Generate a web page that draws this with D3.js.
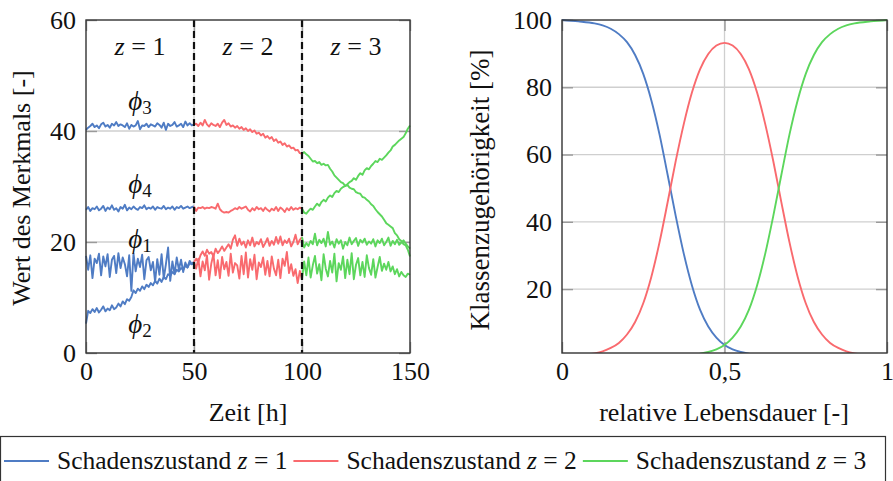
<!DOCTYPE html>
<html>
<head>
<meta charset="utf-8">
<script src="https://cdn.jsdelivr.net/npm/d3@7"></script>
<style>
  body { margin: 0; background: #fff; }
  text { font-family: "Liberation Serif", "Times New Roman", serif; fill: #111; }
</style>
</head>
<body>
<div id="chart"></div>
<script>
// ---- data ----
// features over time, one value per hour (0..150 h)
var phi3 = [40.2,40.6,40.9,41.3,40.7,41.0,40.5,41.2,41.5,40.8,41.1,40.6,41.3,41.0,41.6,40.9,41.2,41.0,40.7,41.4,
  40.4,41.1,40.8,41.0,41.8,40.3,41.0,40.9,41.3,40.7,41.2,41.0,40.8,41.4,41.1,40.6,41.5,40.2,41.3,40.9,
  41.1,41.6,40.8,41.0,41.3,40.7,41.7,41.0,41.4,41.0,41.2,
  41.3,40.9,41.5,41.0,42.0,41.2,40.8,41.4,41.1,40.9,41.3,40.7,41.5,42.0,41.1,41.4,40.8,41.0,40.6,40.9,
  40.4,40.7,40.2,40.5,40.0,40.3,39.8,40.1,39.5,39.7,39.2,39.5,38.8,39.1,38.6,38.9,38.2,38.5,37.9,38.1,
  37.5,37.8,37.2,37.4,36.9,37.0,36.5,36.6,36.0,35.9,
  36.2,35.8,35.5,35.0,34.5,34.6,34.2,34.4,33.9,34.1,33.8,33.9,33.2,32.7,32.0,31.6,31.2,30.8,30.6,30.1,
  30.3,29.8,29.6,29.5,29.0,28.8,28.7,28.1,28.0,27.6,27.3,26.8,26.5,25.9,25.4,25.0,24.6,24.0,23.4,23.1,
  22.8,22.5,21.6,21.2,20.5,20.2,19.6,19.4,18.6,17.4];
var phi4 = [25.8,26.3,25.6,26.1,25.9,26.4,25.7,26.0,26.5,25.6,26.2,25.9,26.6,25.8,26.1,25.5,26.3,26.0,26.7,25.7,
  26.2,25.9,26.4,26.0,25.8,26.3,26.1,26.6,25.9,26.2,26.0,26.4,25.8,26.3,26.1,26.0,26.5,25.9,26.2,26.0,
  26.4,25.8,26.3,26.1,26.5,26.0,26.2,26.4,26.1,26.3,26.4,
  25.6,26.2,26.1,26.3,26.0,26.2,26.1,26.3,26.2,26.0,26.9,25.9,25.5,25.3,25.4,25.3,25.6,25.8,26.1,25.9,
  26.3,26.0,26.2,26.4,25.8,25.5,26.1,25.7,26.3,25.9,26.1,25.6,26.2,25.8,25.5,26.0,25.7,26.3,25.6,26.2,
  25.9,25.4,26.1,25.7,26.3,25.8,26.1,25.9,26.2,26.0,
  25.3,25.1,25.6,26.0,25.8,26.4,26.9,26.5,27.2,27.6,27.3,28.0,28.4,28.1,28.8,29.2,29.0,29.6,29.9,30.1,
  30.4,30.8,31.0,31.5,31.2,31.9,32.4,32.1,32.9,33.3,33.1,33.7,34.1,34.6,34.4,35.0,34.8,35.2,35.6,36.1,
  36.5,37.2,37.5,37.9,38.3,38.6,38.9,39.6,40.4,41.0];
var phi1 = [17.5,15.0,17.6,13.5,17.0,16.2,17.9,14.0,17.4,15.6,17.8,13.7,16.8,17.5,14.4,18.0,15.3,17.2,16.0,13.8,
  17.6,11.2,17.9,14.7,17.0,15.5,17.7,13.3,16.7,17.3,14.9,16.4,12.8,16.9,14.1,17.8,13.4,16.0,19.0,13.0,
  16.5,14.2,17.2,15.0,16.8,14.6,16.3,15.4,16.6,16.0,16.4,
  15.2,17.0,13.8,16.5,14.9,17.6,13.2,16.1,17.8,14.0,16.7,13.5,17.3,15.1,16.4,13.9,17.9,14.5,16.2,15.8,
  13.4,17.5,14.2,18.1,13.6,16.9,15.0,17.7,13.3,16.3,15.5,17.2,14.1,16.6,13.8,17.4,15.2,14.0,16.8,13.5,
  17.0,15.7,18.2,14.4,16.0,13.9,15.1,12.6,14.8,13.2,
  16.5,14.0,17.2,13.6,15.8,17.5,14.3,16.0,13.1,17.8,15.2,13.8,16.6,14.5,17.9,12.9,16.2,15.0,17.4,13.5,
  16.8,14.2,18.0,13.3,15.9,17.1,14.0,16.4,13.7,17.6,15.3,14.1,16.9,13.6,15.5,17.3,14.8,16.1,15.0,16.4,
  14.7,15.6,14.2,15.1,13.8,14.6,14.0,13.7,14.3,14.1];
var phi2 = [5.3,7.6,7.2,7.9,7.4,8.1,7.3,7.8,8.4,7.5,8.0,7.7,8.6,7.9,8.2,8.9,8.4,9.3,8.8,9.7,
  9.4,10.1,11.3,10.8,11.6,11.2,12.0,11.5,12.3,11.9,12.6,12.2,13.0,12.5,13.4,12.8,13.7,13.3,14.2,13.9,
  14.6,14.2,15.0,14.7,15.3,15.0,15.7,15.4,16.2,16.0,16.4,
  17.0,16.4,17.6,18.3,17.5,18.6,17.9,18.2,17.4,18.8,18.0,18.5,19.2,18.4,19.0,19.6,18.8,20.4,21.2,19.3,
  20.6,19.5,20.1,19.0,20.3,19.4,20.8,19.2,20.0,19.6,20.5,19.1,19.8,20.7,19.3,20.2,19.5,20.9,19.7,21.0,
  19.4,20.3,19.8,20.6,19.2,20.0,21.3,19.6,20.4,20.9,
  19.0,19.8,19.3,20.2,19.6,21.5,19.4,20.4,19.8,20.6,19.2,21.8,19.5,20.1,19.0,20.5,19.7,20.3,18.8,20.0,
  19.4,20.8,19.6,20.2,20.7,19.3,20.4,19.9,20.6,19.5,20.1,19.7,20.5,19.2,20.3,19.8,20.6,19.4,20.0,20.8,
  19.3,20.2,19.6,20.4,19.5,19.9,20.3,19.7,19.2,18.8];
var zustandGrenzen = [0, 50, 100, 150];

// membership over relative lifetime
var lebensdauer = [0,0.05,0.1,0.125,0.15,0.175,0.2,0.225,0.25,0.275,0.3,0.325,0.35,0.375,0.4,0.425,0.45,0.475,0.5,
  0.525,0.55,0.575,0.6,0.625,0.65,0.675,0.7,0.725,0.75,0.775,0.8,0.825,0.85,0.875,0.9,0.95,1];
var zug1 = [100,99.6,99.0,98.4,97.4,95.8,93.4,89.6,84.0,76.1,66.0,54.0,41.7,30.4,21.0,13.8,8.9,5.6,3.4,
  2.1,1.3,0.8,0.5,0.3,0.2,0.1,0.1,0,0,0,0,0,0,0,0,0,0];
var zug2 = [0,0.3,0.9,1.5,2.5,4.0,6.5,10.2,15.8,23.7,33.9,45.8,58.1,69.2,78.5,85.4,89.9,92.4,93.2,
  92.4,89.9,85.4,78.5,69.2,58.1,45.8,33.9,23.7,15.8,10.2,6.5,4.0,2.5,1.5,0.9,0.3,0];
var zug3 = [0,0,0,0,0,0,0,0,0,0,0.1,0.1,0.2,0.3,0.5,0.8,1.3,2.1,3.4,
  5.6,8.9,13.8,21.0,30.4,41.7,54.0,66.0,76.1,84.0,89.6,93.4,95.8,97.4,98.4,99.0,99.6,100];

var linksYTicks = [0, 20, 40, 60];
var linksXTicks = [0, 50, 100, 150];
var rechtsYTicks = [20, 40, 60, 80, 100];
var rechtsXTicks = [0, 0.5, 1];
var zustaende = ["1", "2", "3"];
var farben = ["#4f7cc4", "#f96a6e", "#5cd65c"];

// ---- layout ----
var W = 893, H = 481;
var svg = d3.select("#chart").append("svg")
  .attr("width", W).attr("height", H);
svg.append("rect").attr("width", W).attr("height", H).attr("fill", "#fff");

var top0 = 20, bot0 = 353;
var serif = '"Liberation Serif", "Times New Roman", serif';

function frame(g, x, y, xt, yt) {
  var x0 = x.range()[0], x1 = x.range()[1];
  // grid
  g.append("g").selectAll("line").data(yt.filter(function(d) { return d > y.domain()[0] && d < y.domain()[1]; }))
    .enter().append("line")
    .attr("x1", x0).attr("x2", x1)
    .attr("y1", function(d) { return y(d); }).attr("y2", function(d) { return y(d); })
    .attr("stroke", "#cfcfcf").attr("stroke-width", 1.3);
  g.append("g").selectAll("line").data(xt.filter(function(d) { return d > x.domain()[0] && d < x.domain()[1]; }))
    .enter().append("line")
    .attr("y1", top0).attr("y2", bot0)
    .attr("x1", function(d) { return x(d); }).attr("x2", function(d) { return x(d); })
    .attr("stroke", "#cfcfcf").attr("stroke-width", 1.3);
  // inner tick marks on all four sides
  var tk = [
    d3.axisLeft(y).tickValues(yt).tickSize(-11).tickFormat(""),
    d3.axisRight(y).tickValues(yt).tickSize(-11).tickFormat(""),
    d3.axisBottom(x).tickValues(xt).tickSize(-11).tickFormat(""),
    d3.axisTop(x).tickValues(xt).tickSize(-11).tickFormat("")
  ];
  var pos = ["translate(" + x0 + ",0)", "translate(" + x1 + ",0)",
             "translate(0," + bot0 + ")", "translate(0," + top0 + ")"];
  tk.forEach(function(a, i) {
    var t = g.append("g").attr("transform", pos[i]).call(a);
    t.select(".domain").remove();
    t.selectAll("line").attr("stroke", "#9a9a9a").attr("stroke-width", 1.4);
  });
}

function labels(g, x, y, xt, yt, fmtX) {
  var ax = g.append("g").attr("transform", "translate(" + x.range()[0] + ",0)")
    .call(d3.axisLeft(y).tickValues(yt).tickSize(0).tickPadding(10));
  var bx = g.append("g").attr("transform", "translate(0," + bot0 + ")")
    .call(d3.axisBottom(x).tickValues(xt).tickSize(0).tickPadding(9).tickFormat(fmtX));
  [ax, bx].forEach(function(a) {
    a.select(".domain").remove();
    a.attr("font-family", serif).attr("font-size", 26);
    a.selectAll("text").attr("fill", "#111");
  });
}

// ---- left chart: Merkmale über Zeit ----
var xL = d3.scaleLinear().domain([0, 150]).range([86, 410]);
var yL = d3.scaleLinear().domain([0, 60]).range([bot0, top0]);
var gL = svg.append("g");
frame(gL, xL, yL, linksXTicks, linksYTicks);

var lineL = d3.line()
  .x(function(d) { return xL(d[0]); })
  .y(function(d) { return yL(d[1]); });

[phi3, phi4, phi1, phi2].forEach(function(serie) {
  for (var k = 0; k < 3; k++) {
    var a = zustandGrenzen[k], b = zustandGrenzen[k + 1];
    var pts = [];
    for (var t = a; t <= b; t++) pts.push([t, serie[t]]);
    gL.append("path").datum(pts)
      .attr("d", lineL)
      .attr("fill", "none")
      .attr("stroke", farben[k])
      .attr("stroke-width", 1.9)
      .attr("stroke-linejoin", "round");
  }
});

// dashed borders between damage states
gL.selectAll(".grenze").data([50, 100]).enter().append("line")
  .attr("x1", function(d) { return xL(d); }).attr("x2", function(d) { return xL(d); })
  .attr("y1", top0).attr("y2", bot0)
  .attr("stroke", "#111").attr("stroke-width", 2.2).attr("stroke-dasharray", "7,4");

gL.append("rect").attr("x", 86).attr("y", top0).attr("width", 324).attr("height", bot0 - top0)
  .attr("fill", "none").attr("stroke", "#333").attr("stroke-width", 1.4);
labels(gL, xL, yL, linksXTicks, linksYTicks, d3.format("d"));

// z = 1,2,3 labels
zustaende.forEach(function(z, i) {
  var t = gL.append("text")
    .attr("x", xL(zustandGrenzen[i] + 25)).attr("y", 55)
    .attr("text-anchor", "middle").style("font-size", "26px");
  t.append("tspan").attr("font-style", "italic").text("z");
  t.append("tspan").text(" = " + z);
});

// phi labels
var phiPos = [["3", 110], ["4", 193], ["1", 248], ["2", 333]];
phiPos.forEach(function(p) {
  var t = gL.append("text").attr("x", xL(25)).attr("y", p[1])
    .attr("text-anchor", "middle").style("font-size", "27px");
  t.append("tspan").attr("font-style", "italic").text("\u03D5");
  t.append("tspan").attr("dy", 4).style("font-size", "19px").text(p[0]);
});

// axis titles
gL.append("text").attr("x", 248).attr("y", 421).attr("text-anchor", "middle")
  .style("font-size", "26px").text("Zeit [h]");
gL.append("text").attr("transform", "translate(30,188) rotate(-90)").attr("text-anchor", "middle")
  .style("font-size", "26px").text("Wert des Merkmals [-]");

// ---- right chart: Klassenzugehörigkeit ----
var xR = d3.scaleLinear().domain([0, 1]).range([562, 887]);
var yR = d3.scaleLinear().domain([1, 100]).range([bot0, top0]);
var gR = svg.append("g");
frame(gR, xR, yR, rechtsXTicks, rechtsYTicks);

svg.append("clipPath").attr("id", "clipR").append("rect")
  .attr("x", 562).attr("y", top0 - 2).attr("width", 325).attr("height", bot0 - top0 + 2);

var lineR = d3.line()
  .x(function(d, i) { return xR(lebensdauer[i]); })
  .y(function(d) { return yR(d); })
  .curve(d3.curveMonotoneX);

[zug1, zug2, zug3].forEach(function(serie, k) {
  gR.append("path").datum(serie)
    .attr("d", lineR)
    .attr("clip-path", "url(#clipR)")
    .attr("fill", "none")
    .attr("stroke", farben[k])
    .attr("stroke-width", 1.9);
});

gR.append("rect").attr("x", 562).attr("y", top0).attr("width", 325).attr("height", bot0 - top0)
  .attr("fill", "none").attr("stroke", "#333").attr("stroke-width", 1.4);
labels(gR, xR, yR, rechtsXTicks, rechtsYTicks, function(d) { return String(d).replace(".", ","); });

gR.append("text").attr("x", 724).attr("y", 421).attr("text-anchor", "middle")
  .style("font-size", "26px").text("relative Lebensdauer [-]");
gR.append("text").attr("transform", "translate(489,190) rotate(-90)").attr("text-anchor", "middle")
  .style("font-size", "27px").text("Klassenzugehörigkeit [%]");

// ---- legend ----
var leg = svg.append("g");
leg.append("rect").attr("x", 0.5).attr("y", 436.5).attr("width", 885).attr("height", 60)
  .attr("fill", "#fff").attr("stroke", "#333").attr("stroke-width", 1.2);
var lx = 4;
zustaende.forEach(function(z, i) {
  leg.append("line").attr("x1", lx).attr("x2", lx + 45).attr("y1", 461).attr("y2", 461)
    .attr("stroke", farben[i]).attr("stroke-width", 1.9);
  var t = leg.append("text").attr("x", lx + 53).attr("y", 469).style("font-size", "25.5px");
  t.append("tspan").text("Schadenszustand ");
  t.append("tspan").attr("font-style", "italic").text("z");
  t.append("tspan").text(" = " + z);
  lx = lx + 53 + t.node().getComputedTextLength() + 6;
});
</script>
</body>
</html>
